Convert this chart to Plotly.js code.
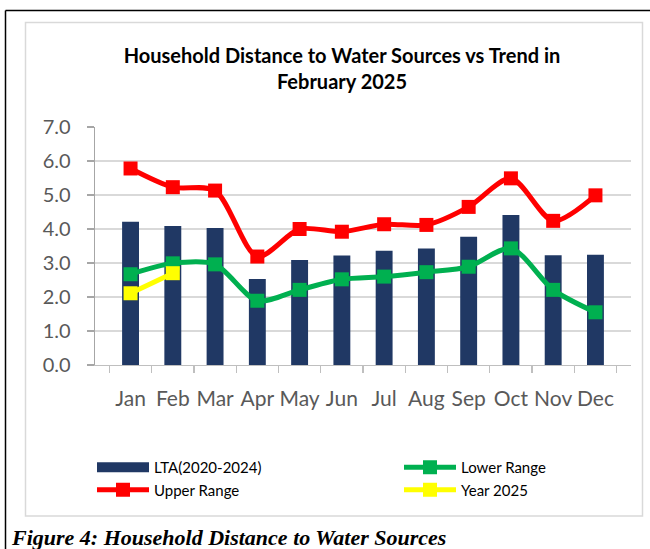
<!DOCTYPE html>
<html>
<head>
<meta charset="utf-8">
<script src="https://cdn.plot.ly/plotly-3.0.1.min.js"></script>
<style>html,body{margin:0;padding:0;background:#fff;}#chart{width:650px;height:549px;}</style>
</head>
<body>
<div id="chart"></div>
<script>
const months = ["Jan","Feb","Mar","Apr","May","Jun","Jul","Aug","Sep","Oct","Nov","Dec"];
const lta = [4.21,4.09,4.03,2.53,3.09,3.22,3.36,3.43,3.77,4.41,3.23,3.24];
const lowerRange = [2.67,2.99,2.96,1.89,2.21,2.52,2.60,2.73,2.89,3.43,2.21,1.55];
const upperRange = [5.78,5.23,5.13,3.19,4.00,3.92,4.14,4.12,4.65,5.49,4.24,4.99];
const year2025Months = ["Jan","Feb"];
const year2025 = [2.11,2.70];
const yTicks = [0,1,2,3,4,5,6,7];

const W = 650, H = 549;
const M = {l: 95, r: 19, t: 127, b: 184};
const PW = W - M.l - M.r, PH = H - M.t - M.b;
const px = x => (x - M.l) / PW;
const py = y => (H - M.b - y) / PH;

const font = "Lato, 'Open Sans', sans-serif";
const barColor = "#203864";

const lineTrace = (name, x, y, color, legend) => ({
  type: "scatter", mode: "lines+markers", name, x, y, legend,
  line: {color, width: 5, shape: "spline", smoothing: 0.8},
  marker: {symbol: "square", size: 14, color},
  hoverinfo: "skip"
});

const data = [
  {type: "bar", name: "LTA(2020-2024)", x: months, y: lta,
   marker: {color: barColor}, hoverinfo: "skip", showlegend: false},
  // legend key for the bars drawn as a wide block, like the original
  {type: "scatter", mode: "lines", name: "LTA(2020-2024)", x: [null], y: [null],
   line: {color: barColor, width: 11}, legend: "legend", hoverinfo: "skip"},
  lineTrace("Upper Range", months, upperRange, "#FF0000", "legend"),
  lineTrace("Lower Range", months, lowerRange, "#00B050", "legend2"),
  lineTrace("Year 2025", year2025Months, year2025, "#FFFF00", "legend2")
];
const drawData = [data[0], data[1], data[3], data[2], data[4]];

const legendCommon = {
  orientation: "v", xanchor: "left", yanchor: "top", y: py(451),
  itemwidth: 52, tracegroupgap: 0, traceorder: "normal",
  font: {family: font, size: 15, color: "#000"}, bgcolor: "rgba(0,0,0,0)"
};

const layout = {
  width: W, height: H,
  margin: M,
  paper_bgcolor: "#fff", plot_bgcolor: "#fff",
  font: {family: font, color: "#595959"},
  bargap: 0.6,
  showlegend: true,
  title: {
    text: "<b>Household Distance to Water Sources vs Trend in<br>February 2025</b>",
    font: {family: font, size: 20, color: "#000"},
    x: 342 / W, xref: "container", xanchor: "center",
    y: 1 - 63 / H, yref: "container", yanchor: "middle"
  },
  xaxis: {
    type: "category", categoryarray: months,
    showline: true, linecolor: "#BFBFBF", linewidth: 1.3,
    ticks: "outside", tickson: "boundaries", ticklen: 7, tickcolor: "#BFBFBF", tickwidth: 1.3,
    tickangle: 0, ticklabelstandoff: 14,
    tickfont: {family: font, size: 21, color: "#595959"},
    showgrid: false, fixedrange: true
  },
  yaxis: {
    range: [0, 7], tickvals: yTicks, ticktext: yTicks.map(v => v.toFixed(1)),
    showline: true, linecolor: "#A6A6A6", linewidth: 1.3,
    ticks: "outside", ticklen: 7, tickcolor: "#A6A6A6", tickwidth: 1.3,
    ticklabelstandoff: 12,
    gridcolor: "#D9D9D9", gridwidth: 1.5,
    tickfont: {family: font, size: 20, color: "#595959"},
    zeroline: false, fixedrange: true
  },
  legend: Object.assign({}, legendCommon, {x: px(92)}),
  legend2: Object.assign({}, legendCommon, {x: px(399)}),
  shapes: [
    {type: "rect", xref: "paper", yref: "paper", x0: px(25.5), x1: px(642.5), y0: py(22.5), y1: py(516),
     line: {color: "#D9D9D9", width: 1.5}, layer: "below"},
    {type: "line", xref: "paper", yref: "paper", x0: px(5.5), x1: px(5.5), y0: py(10.5), y1: py(549),
     line: {color: "#000", width: 1.5}},
    {type: "line", xref: "paper", yref: "paper", x0: px(5.5), x1: px(650), y0: py(10.5), y1: py(10.5),
     line: {color: "#000", width: 1.5}}
  ],
  annotations: [
    {text: "<b><i>Figure 4: Household Distance to Water Sources</i></b>",
     xref: "paper", yref: "paper", x: px(9), y: py(537), xanchor: "left", yanchor: "middle",
     showarrow: false, font: {family: "'Liberation Serif', 'Times New Roman', serif", size: 22, color: "#000"}}
  ]
};

Plotly.newPlot("chart", drawData, layout, {staticPlot: true, displayModeBar: false});
</script>
</body>
</html>
